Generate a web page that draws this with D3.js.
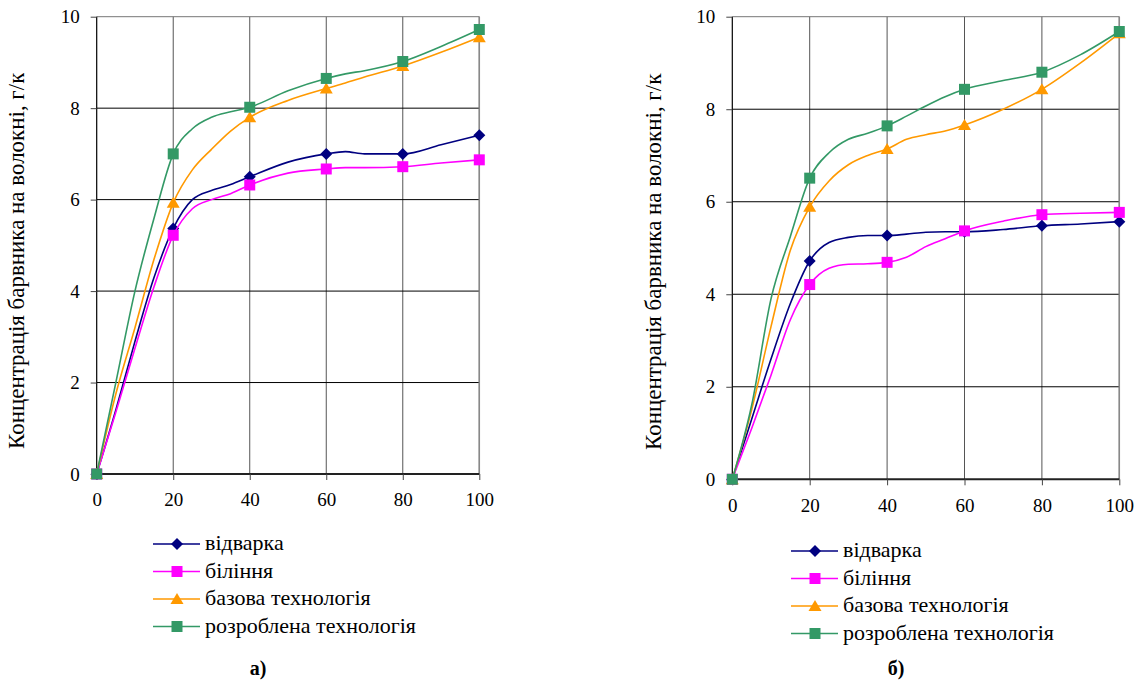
<!DOCTYPE html>
<html>
<head>
<meta charset="utf-8">
<script src="https://cdn.jsdelivr.net/npm/d3@7"></script>
<style>
  body { margin: 0; background: #fff; }
</style>
</head>
<body>
<svg id="chart" width="1141" height="681" font-family="Liberation Serif"></svg>
<script>
// series names + colours
const seriesNames = ["відварка", "біління", "базова технологія", "розроблена технологія"];
const seriesColors = ["#000080", "#ff00ff", "#ff9900", "#339966"];
const seriesMarkers = ["diamond", "square", "triangle", "square"];

const xTicks = [0, 20, 40, 60, 80, 100];
const yTicks = [0, 2, 4, 6, 8, 10];
const markerX = [0, 20, 40, 60, 80, 100];

// chart а)
const xsA = [0, 5, 10, 15, 20, 25, 30, 35, 40, 50, 60, 65, 70, 80, 90, 100];
const vidvarkaA = [0, 1.4, 2.9, 4.3, 5.37, 6.0, 6.2, 6.33, 6.5, 6.82, 7.0, 7.05, 7.0, 7.0, 7.2, 7.41];
const bilinnyaA = [0, 1.35, 2.75, 4.1, 5.22, 5.8, 6.0, 6.13, 6.32, 6.58, 6.67, 6.7, 6.7, 6.72, 6.8, 6.87];
const bazovaA = [0, 1.75, 3.2, 4.7, 5.93, 6.65, 7.1, 7.5, 7.8, 8.17, 8.43, 8.55, 8.68, 8.92, 9.22, 9.55];
const rozroblenaA = [0, 2.0, 4.0, 5.6, 7.0, 7.55, 7.8, 7.92, 8.02, 8.38, 8.65, 8.75, 8.82, 9.02, 9.35, 9.72];

// chart б)
const xsB = [0, 5, 10, 15, 20, 25, 30, 35, 40, 45, 50, 55, 60, 70, 80, 90, 100];
const vidvarkaB = [0, 1.3, 2.6, 3.8, 4.72, 5.12, 5.23, 5.27, 5.27, 5.3, 5.34, 5.35, 5.35, 5.4, 5.48, 5.52, 5.57];
const bilinnyaB = [0, 1.1, 2.25, 3.45, 4.21, 4.56, 4.65, 4.66, 4.69, 4.8, 5.03, 5.2, 5.37, 5.58, 5.72, 5.75, 5.77];
const bazovaB = [0, 1.5, 3.3, 4.95, 5.89, 6.45, 6.8, 7.0, 7.14, 7.35, 7.45, 7.53, 7.66, 8.0, 8.43, 9.0, 9.64];
const rozroblenaB = [0, 1.6, 3.9, 5.25, 6.51, 7.06, 7.35, 7.48, 7.64, 7.85, 8.07, 8.27, 8.43, 8.62, 8.8, 9.18, 9.68];

const yTitle = "Концентрація барвника на волокні, г/кг";

const svg = d3.select("#chart");
const serif = "'Liberation Serif'";

// font size that makes a string as wide as in the original
function fitSize(str, targetWidth) {
    const t = svg.append("text").style("font-family", serif).attr("font-size", 20).text(str);
    const w = t.node().getComputedTextLength();
    t.remove();
    return w > 0 ? 20 * targetWidth / w : 20;
}
const tickSize = fitSize("100", 28.5);
const legendSize = fitSize("розроблена технологія", 211);
const titleSize = fitSize(yTitle, 386);

function drawChart(cfg) {
    const x = d3.scaleLinear().domain([0, 100]).range([cfg.left, cfg.right]);
    const y = d3.scaleLinear().domain([0, 10]).range([cfg.bottom, cfg.top]);
    const g = svg.append("g");

    // vertical grid (gray)
    g.selectAll(".vgrid").data(xTicks.slice(1)).join("line")
        .attr("x1", d => x(d)).attr("x2", d => x(d))
        .attr("y1", cfg.top).attr("y2", cfg.bottom)
        .attr("stroke", "#555").attr("stroke-width", 1);
    // horizontal grid (black)
    g.selectAll(".hgrid").data(yTicks.slice(1)).join("line")
        .attr("x1", cfg.left).attr("x2", cfg.right)
        .attr("y1", d => y(d)).attr("y2", d => y(d))
        .attr("stroke", d => d === 10 ? "#777" : "#000").attr("stroke-width", 1);
    // right border
    g.append("line")
        .attr("x1", cfg.right).attr("x2", cfg.right)
        .attr("y1", cfg.top).attr("y2", cfg.bottom)
        .attr("stroke", "#888").attr("stroke-width", 1.5);

    // axes
    const xAxis = g.append("g").attr("transform", `translate(0,${cfg.bottom})`)
        .call(d3.axisBottom(x).tickValues(xTicks).tickSize(6).tickPadding(13));
    const yAxis = g.append("g").attr("transform", `translate(${cfg.left},0)`)
        .call(d3.axisLeft(y).tickValues(yTicks).tickSize(6).tickPadding(11));
    [xAxis, yAxis].forEach(a => {
        a.attr("font-family", null).attr("font-size", null);
        a.selectAll("text").style("font-family", serif).attr("font-size", tickSize).attr("fill", "#000");
        a.selectAll("line").attr("stroke", "#444");
    });
    xAxis.select(".domain").attr("stroke", "#222").attr("stroke-width", 2).attr("d", `M${cfg.left},0H${cfg.right}`);
    yAxis.select(".domain").attr("stroke", "#000").attr("stroke-width", 1.2).attr("d", `M0,${cfg.bottom}V${cfg.top}`);

    // y title (top end is clipped in the original)
    const clipId = "clip" + cfg.caption.charCodeAt(0);
    svg.append("clipPath").attr("id", clipId)
        .append("rect").attr("x", cfg.titleX - 30).attr("y", 73).attr("width", 40).attr("height", 400);
    g.append("g").attr("clip-path", `url(#${clipId})`)
        .append("text")
        .attr("transform", `translate(${cfg.titleX},${cfg.titleBottom}) rotate(-90)`)
        .attr("text-anchor", "start")
        .style("font-family", serif).attr("font-size", titleSize)
        .text(yTitle);

    const line = d3.line().x(d => x(d[0])).y(d => y(d[1])).curve(d3.curveMonotoneX);

    cfg.series.forEach((vals, i) => {
        const pts = cfg.xs.map((xv, j) => [xv, vals[j]]);
        g.append("path").datum(pts)
            .attr("d", line)
            .attr("fill", "none")
            .attr("stroke", seriesColors[i])
            .attr("stroke-width", 1.6);
        g.selectAll(".m" + i).data(pts.filter(p => markerX.includes(p[0]))).join("path")
            .attr("transform", p => `translate(${x(p[0])},${y(p[1])})`)
            .attr("d", markerPath(seriesMarkers[i]))
            .attr("fill", seriesColors[i]);
    });

    // legend
    seriesNames.forEach((name, i) => {
        const ly = cfg.legendY + i * 27.5;
        g.append("line")
            .attr("x1", cfg.legendX).attr("x2", cfg.legendX + 47)
            .attr("y1", ly).attr("y2", ly)
            .attr("stroke", seriesColors[i]).attr("stroke-width", 1.6);
        g.append("path")
            .attr("transform", `translate(${cfg.legendX + 24},${ly})`)
            .attr("d", markerPath(seriesMarkers[i]))
            .attr("fill", seriesColors[i]);
        g.append("text")
            .attr("x", cfg.legendX + 52).attr("y", ly + 6)
            .style("font-family", serif).attr("font-size", legendSize)
            .text(name);
    });

    g.append("text")
        .attr("x", cfg.captionX).attr("y", 675)
        .attr("text-anchor", "middle")
        .style("font-family", serif).attr("font-size", 20).attr("font-weight", "bold")
        .text(cfg.caption);
}

function markerPath(kind) {
    if (kind === "diamond") return "M0,-6L6,0L0,6L-6,0Z";
    if (kind === "triangle") return "M0,-6L6.5,5L-6.5,5Z";
    return "M-5.5,-5.5H5.5V5.5H-5.5Z";
}

drawChart({
    left: 96.7, right: 479.3, top: 16.7, bottom: 474,
    xs: xsA, series: [vidvarkaA, bilinnyaA, bazovaA, rozroblenaA],
    titleX: 24, titleBottom: 449,
    legendX: 153, legendY: 544, captionX: 258, caption: "а)"
});
drawChart({
    left: 732.3, right: 1119.3, top: 16.7, bottom: 479.3,
    xs: xsB, series: [vidvarkaB, bilinnyaB, bazovaB, rozroblenaB],
    titleX: 661, titleBottom: 450,
    legendX: 791, legendY: 551, captionX: 896, caption: "б)"
});
</script>
</body>
</html>
